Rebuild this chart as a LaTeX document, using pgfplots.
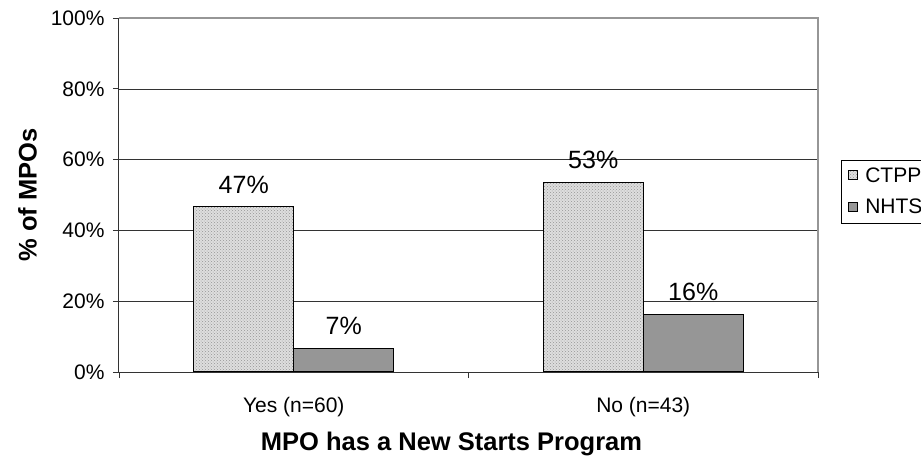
\documentclass[border=0pt]{standalone}
\usepackage{pgfplots}
\pgfplotsset{compat=1.18}
\usetikzlibrary{patterns}
\usepackage{fontspec}
\setmainfont{Liberation Sans}
\definecolor{ctpp}{RGB}{222,222,222}
\definecolor{ctppdot}{RGB}{150,150,150}
\definecolor{nhts}{RGB}{150,150,150}
\definecolor{frame}{RGB}{150,150,150}
\begin{document}
\begin{tikzpicture}
\path[use as bounding box] (-119pt,-92pt) rectangle (802pt,372pt);
\begin{axis}[
  scale only axis,
  width=699pt, height=354pt,
  at={(0,0)}, anchor=south west,
  xmin=-0.5, xmax=1.5,
  ymin=0, ymax=100,
  ybar=0pt, bar width=100pt,
  axis line style={draw=none},
  clip=false,
  xtick={0,1},
  xtick pos=bottom,
  xticklabels={Yes (n=60), No (n=43)},
  x tick style={draw=none},
  extra x ticks={-0.5,0.5,1.5},
  extra x tick labels={,,},
  extra x tick style={tick align=outside, major tick length=6pt, xtick pos=bottom, x tick style={draw=black!80, line width=0.8pt}},
  ytick={0,20,40,60,80,100},
  yticklabel={\pgfmathprintnumber{\tick}\%},
  ytick pos=left,
  tick align=outside,
  major tick length=6pt,
  y tick style={draw=black!80, line width=0.8pt},
  ymajorgrids,
  grid style={black!80, line width=0.6pt},
  tick label style={font=\fontsize{21}{25}\selectfont},
  /pgf/number format/assume math mode=true,
  xticklabel style={yshift=-16pt},
  yticklabel style={xshift=-5pt},
  xlabel={\textbf{MPO has a New Starts Program}},
  ylabel={\textbf{\% of MPOs}},
  label style={font=\fontsize{25.5}{30}\selectfont},
  xlabel style={yshift=4pt, xshift=-17pt},
  ylabel style={yshift=7pt},
  nodes near coords={\pgfmathprintnumber[fixed,precision=0]{\pgfplotspointmeta}\%},
  every node near coord/.append style={font=\fontsize{25}{30}\selectfont, anchor=south, inner sep=0pt, yshift=13pt},
  legend style={at={(rel axis cs:1,0.51)}, anchor=west, xshift=23pt, draw=black, line width=0.6pt,
    font=\fontsize{21}{25}\selectfont, row sep=11pt, inner xsep=7pt, inner ysep=6pt,
    cells={anchor=west}, text width=70pt},
  legend image code/.code={\draw[#1, line width=0.8pt] (0pt,-4pt) rectangle (9pt,5pt); \path (14pt,0pt);},
]
\addplot[draw=black, line width=1.2pt, fill=ctpp, postaction={pattern=crosshatch dots, pattern color=ctppdot}] coordinates {(0,46.67) (1,53.49)};
\addplot[draw=black, line width=1.2pt, fill=nhts] coordinates {(0,6.67) (1,16.28)};
\legend{CTPP, NHTS}
\draw[frame, line width=1.4pt] (rel axis cs:0,1) -- (rel axis cs:1,1) -- (rel axis cs:1,0);
\draw[black!80, line width=1pt] (rel axis cs:0,1) -- (rel axis cs:0,0) -- (rel axis cs:1,0);
\end{axis}
\end{tikzpicture}
\end{document}
